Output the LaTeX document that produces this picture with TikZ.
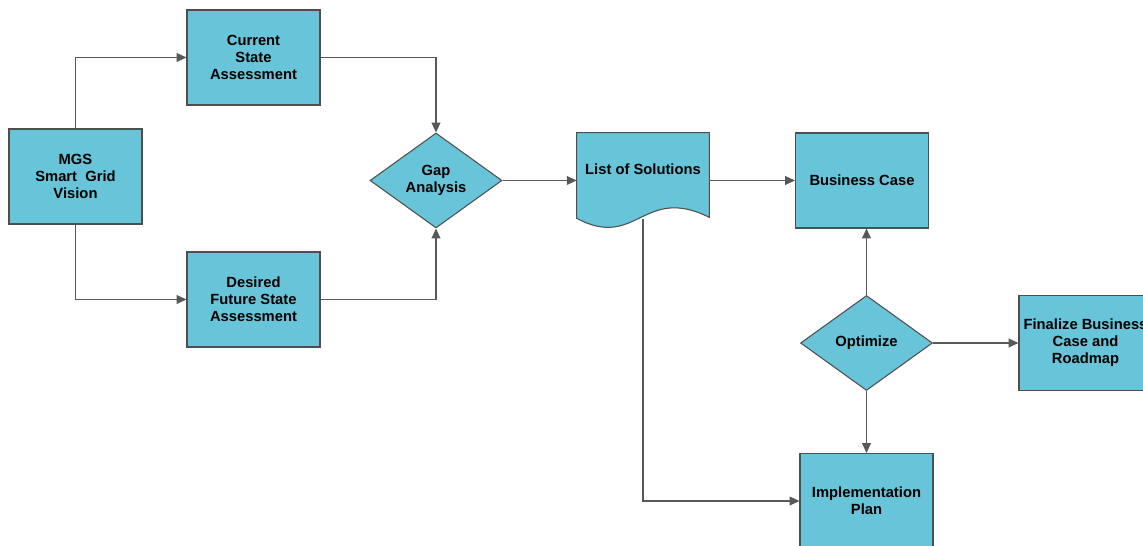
\documentclass[tikz,border=0pt]{standalone}
\usepackage{fontspec}
\setmainfont{Liberation Sans}
\usetikzlibrary{arrows.meta,calc,shapes.geometric}
\definecolor{flowB}{RGB}{104,196,216}
\definecolor{flowE}{RGB}{78,78,78}
\definecolor{flowL}{RGB}{88,88,88}

\begin{document}
\begin{tikzpicture}[x=0.02cm,y=-0.02cm,>={Triangle[length=5.6pt,width=5pt]},
  txt/.style={font=\bfseries\fontsize{8.4}{9.6}\selectfont,align=center,text=black},
  box/.style={txt,draw=flowE,fill=flowB,line width=0.6pt,minimum width=2.66cm,minimum height=1.9cm,inner sep=0pt},
  decide/.style={txt,diamond,aspect=1.4,draw=flowE,fill=flowB,line width=0.6pt,minimum width=2.64cm,minimum height=1.9cm,inner sep=0pt},
  link/.style={->,draw=flowL,line width=0.7pt}]
\useasboundingbox (0,0) rectangle (1143,546);
\clip (0,0) rectangle (1143,546);
% boxes, left to right
\node[box] (mgs) at (75.5,176.5) {MGS\\Smart~ Grid\\Vision};
\node[box] (cur) at (253.5,57.5) {Current\\State\\Assessment};
\node[box] (des) at (253.5,299.5) {Desired\\Future State\\Assessment};
\node[decide] (gap) at (436,180.5) {Gap\\Analysis};
\node[minimum width=2.64cm,minimum height=1.9cm,inner sep=0pt] (list) at (643,180.5) {};
\path[fill=flowB,draw=flowE,line width=0.6pt] (list.north west) -- (list.north east)
  -- ($(list.south east)+(0,-11)$) .. controls ($(list.south)+(0,-44)$) and ($(list.south)+(-6,22)$) .. ($(list.south west)+(0,-10)$) -- cycle;
\node[txt] (listtxt) at (643,169) {List of Solutions};
\coordinate (listfoot) at ($(list.south)+(0,-9)$);
\node[box] (bus) at (862,180.5) {Business Case};
\node[decide] (opt) at (866.5,343) {Optimize};
\node[box] (fin) at (1085.5,343) {Finalize Business\\Case and\\Roadmap};
\node[box] (impl) at (866.5,501) {Implementation\\Plan};
% connectors
\draw[link] (mgs.north) |- (cur.west);
\draw[link] (mgs.south) |- (des.west);
\draw[link] (cur.east) -| (gap.north);
\draw[link] (des.east) -| (gap.south);
\draw[link] (gap.east) -- (list.west);
\draw[link] (list.east) -- (bus.west);
\draw[link] (listfoot) |- (impl.west);
\draw[link] (opt.north) -- (opt.north |- bus.south);
\draw[link] (opt.east) -- (fin.west);
\draw[link] (opt.south) -- (impl.north);
\end{tikzpicture}
\end{document}
